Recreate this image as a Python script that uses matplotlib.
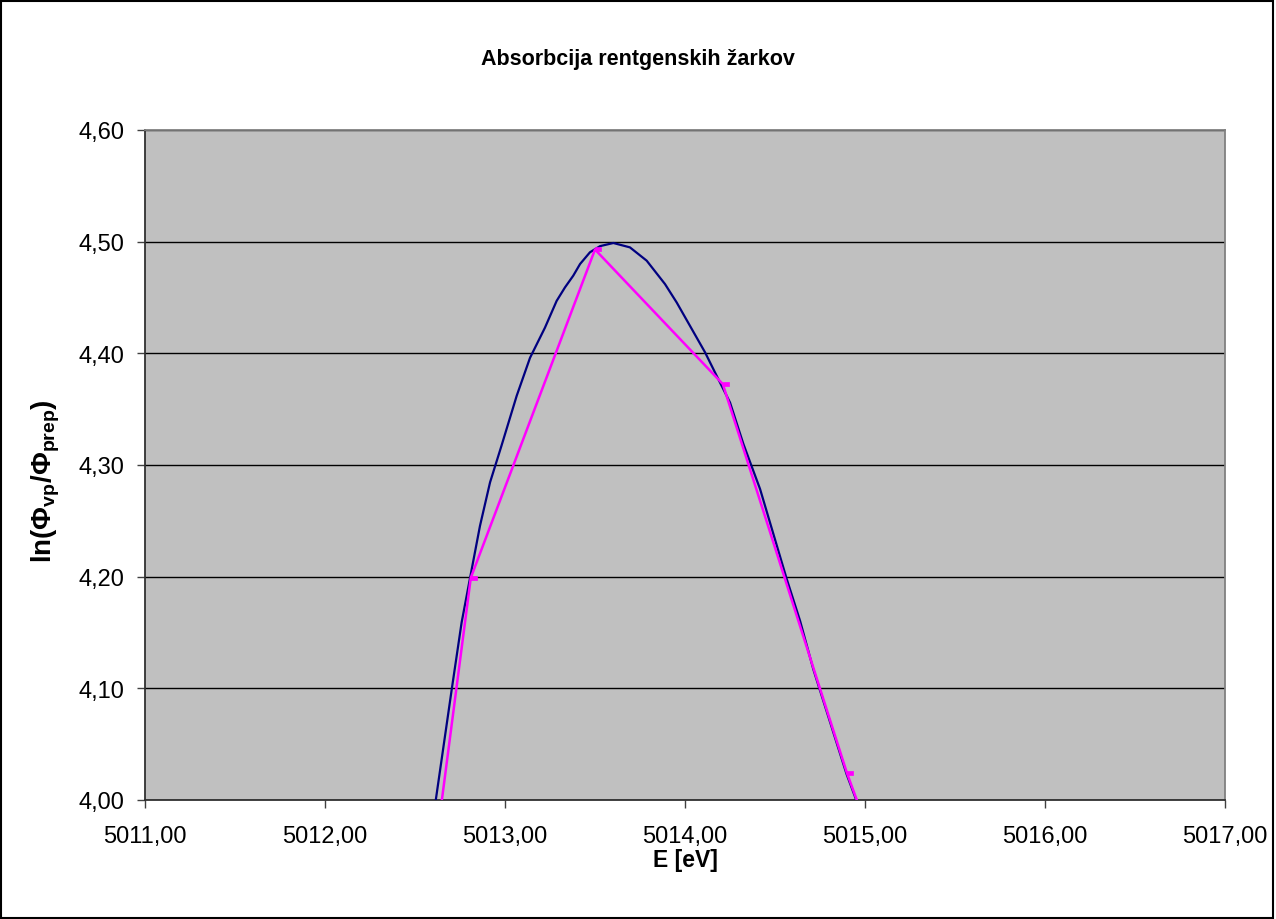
import matplotlib
matplotlib.use("Agg")
import matplotlib.pyplot as plt
from matplotlib.ticker import FuncFormatter, MultipleLocator
from matplotlib.patches import Rectangle
from matplotlib.path import Path

plt.rcParams['font.family'] = ['Liberation Sans', 'DejaVu Sans']
plt.rcParams['mathtext.fontset'] = 'custom'
plt.rcParams['mathtext.rm'] = 'Liberation Sans'
plt.rcParams['mathtext.bf'] = 'Liberation Sans:bold'

title = "Absorbcija rentgenskih žarkov"
xlabel = "E [eV]"

# measured curve (navy)
curve_E = [5012.58, 5012.611, 5012.704, 5012.759, 5012.806, 5012.861, 5012.917,
           5012.98, 5013.065, 5013.139, 5013.222, 5013.287, 5013.333, 5013.379,
           5013.417, 5013.472, 5013.528, 5013.602, 5013.694, 5013.787, 5013.889,
           5013.954, 5014.111, 5014.194, 5014.25, 5014.324, 5014.417, 5014.565,
           5014.639, 5014.713, 5014.898, 5014.963, 5014.99]
curve_y = [3.96, 3.995, 4.099, 4.159, 4.199, 4.2455, 4.2845,
           4.317, 4.362, 4.396, 4.423, 4.447, 4.459, 4.4695,
           4.48, 4.4905, 4.496, 4.4988, 4.4949, 4.483, 4.462,
           4.4455, 4.401, 4.374, 4.356, 4.319, 4.2785, 4.198,
           4.1606, 4.117, 4.023, 3.995, 3.98]

# sparse points (magenta)
pts_E = [5012.5, 5012.81, 5013.50, 5014.21, 5014.90, 5015.5]
pts_y = [3.815, 4.199, 4.493, 4.3725, 4.024, 3.76]

dash = Path([(0, -0.25), (1, -0.25), (1, 0.25), (0, 0.25), (0, -0.25)],
            [Path.MOVETO, Path.LINETO, Path.LINETO, Path.LINETO, Path.CLOSEPOLY])

fig = plt.figure(figsize=(12.76, 9.2), dpi=100)
ax = fig.add_axes([145/1276, 1-801/920, (1225-145)/1276, (801-131)/920])
ax.set_facecolor('#C0C0C0')

ax.plot(curve_E, curve_y, color='#000080', lw=1.6, zorder=3)
ax.plot(pts_E, pts_y, color='#FF00FF', lw=1.8, zorder=4,
        marker=dash, markersize=9, markeredgewidth=0.5,
        markerfacecolor='#FF00FF', markeredgecolor='#FF00FF')

ax.set_xlim(5011, 5017)
ax.set_ylim(4.0, 4.6)
ax.xaxis.set_major_locator(MultipleLocator(1))
ax.yaxis.set_major_locator(MultipleLocator(0.1))
ax.xaxis.set_major_formatter(FuncFormatter(lambda v, p: f"{v:.2f}".replace('.', ',')))
ax.yaxis.set_major_formatter(FuncFormatter(lambda v, p: f"{v:.2f}".replace('.', ',')))
ax.grid(axis='y', color='black', lw=1)
ax.set_axisbelow(True)
ax.tick_params(axis='both', direction='out', length=6, width=1, color='#404040',
               labelsize=17, pad=9)
ax.tick_params(axis='x', pad=12)

for s in ['left', 'bottom']:
    ax.spines[s].set_color('#303030')
    ax.spines[s].set_linewidth(1.3)
for s in ['top', 'right']:
    ax.spines[s].set_color('#808080')
    ax.spines[s].set_linewidth(1.3)

fig.text(0.5, 1 - 60/920, title, fontsize=15.5, fontweight='bold',
         ha='center', va='center')
ax.set_xlabel(xlabel, fontsize=16.5, fontweight='bold', labelpad=1)
ax.set_ylabel(r"$\mathbf{ln(\Phi_{vp}/\Phi_{prep})}$", fontsize=20)
ax.yaxis.set_label_coords(-0.077, 0.478)

fig.patches.append(Rectangle((0.001, 0.001), 0.997, 0.997, transform=fig.transFigure,
                             fill=False, edgecolor='black', lw=1.5))

fig.savefig("out.png", dpi=100)
